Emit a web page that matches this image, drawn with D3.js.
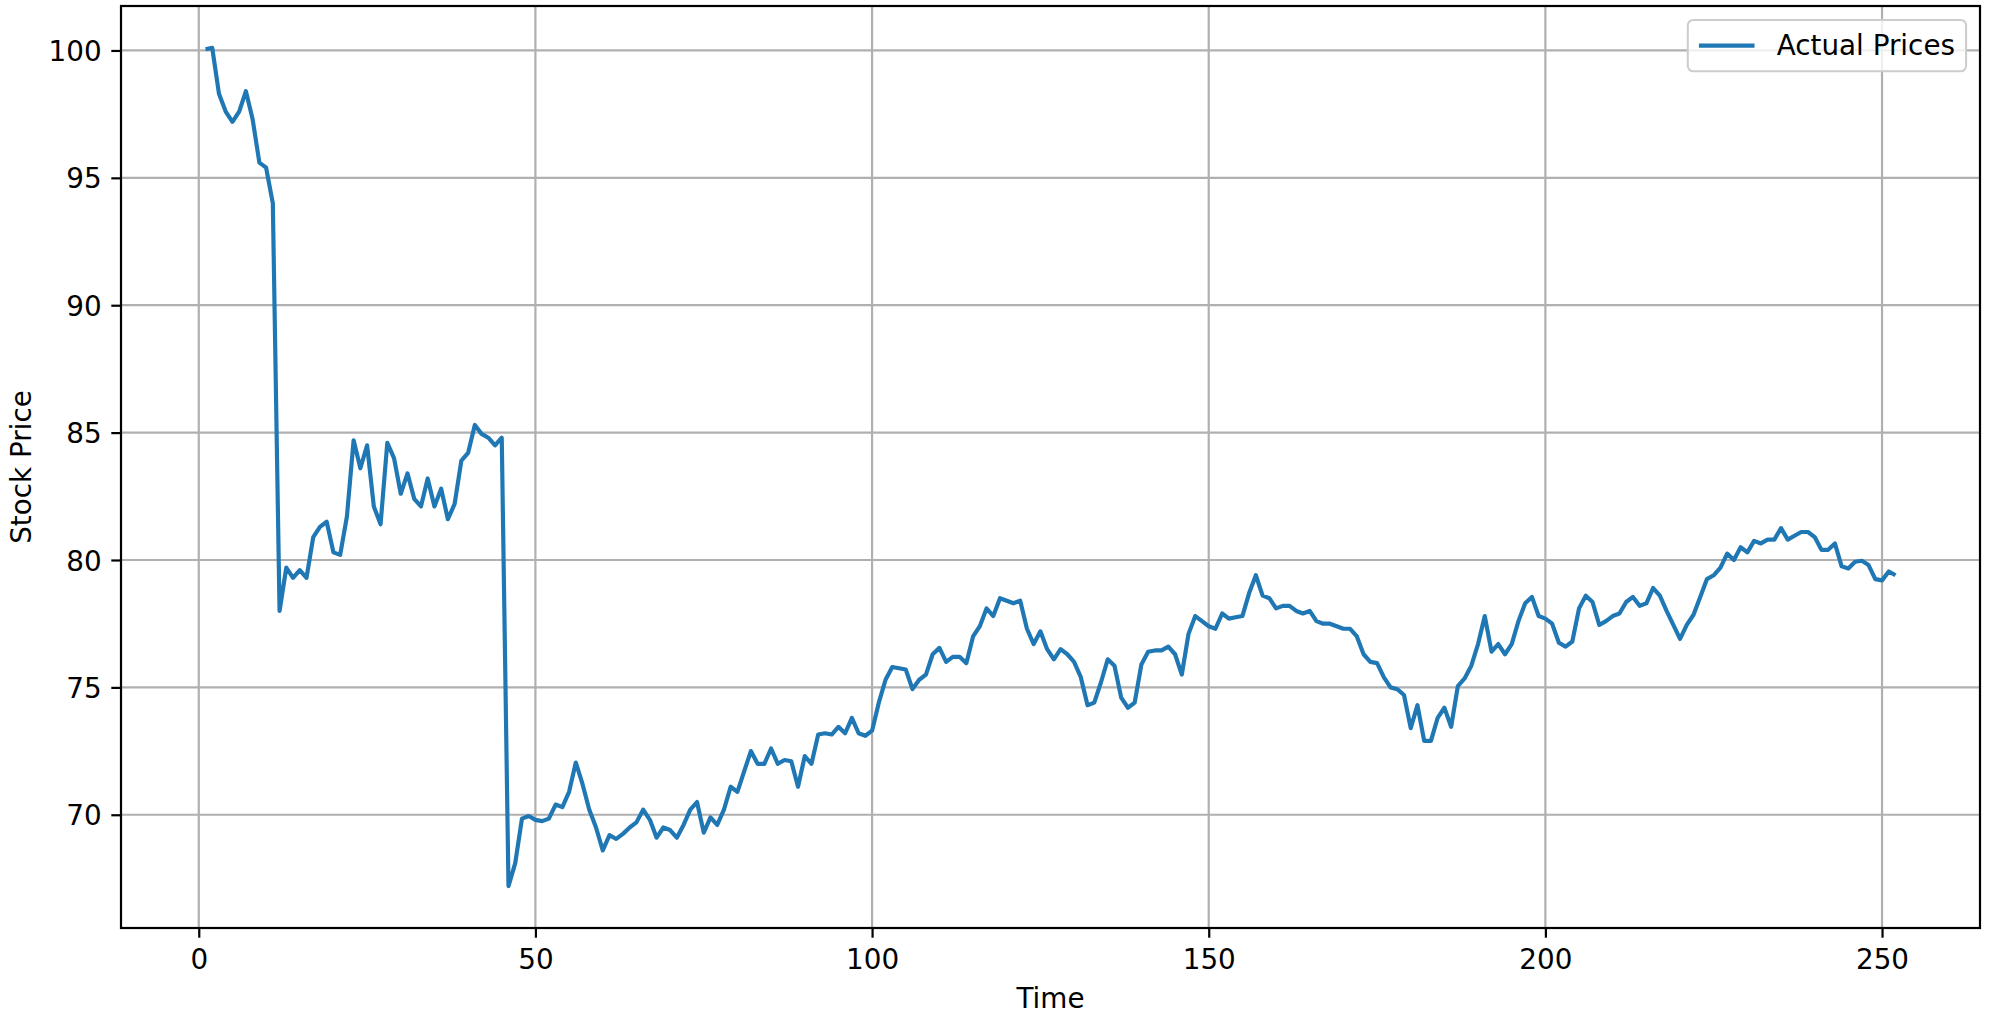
<!DOCTYPE html>
<html>
<head>
<meta charset="utf-8">
<script src="https://cdn.jsdelivr.net/npm/d3@7"></script>
<style>
  html, body { margin: 0; padding: 0; background: #fff; }
  svg { display: block; font-family: "DejaVu Sans", sans-serif; }
</style>
</head>
<body>
<svg id="chart" width="1994" height="1026"></svg>
<script>
// ---- data ----
const seriesName = "Actual Prices";
const xLabel = "Time";
const yLabel = "Stock Price";
const xTicks = [0, 50, 100, 150, 200, 250];
const yTicks = [70, 75, 80, 85, 90, 95, 100];
const prices = [
  100.05, 100.1, 98.3, 97.6, 97.2, 97.6, 98.4, 97.3, 95.6, 95.4,
  94.0, 78.0, 79.7, 79.3, 79.6, 79.3, 80.9, 81.3, 81.5, 80.3,
  80.2, 81.7, 84.7, 83.6, 84.5, 82.1, 81.4, 84.6, 84.0, 82.6,
  83.4, 82.4, 82.1, 83.2, 82.1, 82.8, 81.6, 82.2, 83.9, 84.2,
  85.3, 84.95, 84.8, 84.5, 84.8, 67.2, 68.1, 69.85, 69.95, 69.8,
  69.75, 69.85, 70.4, 70.3, 70.9, 72.05, 71.2, 70.2, 69.5, 68.6,
  69.2, 69.05, 69.25, 69.5, 69.7, 70.2, 69.8, 69.1, 69.5, 69.4,
  69.1, 69.6, 70.2, 70.5, 69.3, 69.9, 69.6, 70.2, 71.1, 70.9,
  71.7, 72.5, 72.0, 72.0, 72.6, 72.0, 72.15, 72.1, 71.1, 72.3,
  72.0, 73.15, 73.2, 73.15, 73.45, 73.2, 73.8, 73.2, 73.1, 73.3,
  74.4, 75.3, 75.8, 75.75, 75.7, 74.93, 75.3, 75.5, 76.3, 76.55,
  76.0, 76.2, 76.2, 75.95, 77.0, 77.4, 78.1, 77.8, 78.5, 78.4,
  78.3, 78.4, 77.3, 76.7, 77.2, 76.5, 76.1, 76.5, 76.3, 76.0,
  75.4, 74.3, 74.4, 75.2, 76.1, 75.85, 74.6, 74.2, 74.4, 75.9,
  76.4, 76.45, 76.45, 76.6, 76.3, 75.5, 77.1, 77.8, 77.6, 77.4,
  77.3, 77.9, 77.7, 77.75, 77.8, 78.7, 79.4, 78.6, 78.5, 78.1,
  78.2, 78.2, 78.0, 77.9, 78.0, 77.6, 77.5, 77.5, 77.4, 77.3,
  77.3, 77.0, 76.3, 76.0, 75.95, 75.4, 75.0, 74.93, 74.7, 73.4,
  74.3, 72.9, 72.9, 73.8, 74.2, 73.45, 75.05, 75.35, 75.85, 76.7,
  77.8, 76.4, 76.7, 76.3, 76.7, 77.6, 78.3, 78.55, 77.8, 77.7,
  77.5, 76.75, 76.6, 76.8, 78.1, 78.6, 78.35, 77.45, 77.6, 77.8,
  77.9, 78.35, 78.55, 78.2, 78.3, 78.9, 78.6, 78.0, 77.45, 76.9,
  77.45, 77.85, 78.55, 79.25, 79.4, 79.7, 80.25, 80.0, 80.5, 80.3,
  80.75, 80.65, 80.8, 80.8, 81.25, 80.8, 80.95, 81.1, 81.1, 80.9,
  80.4, 80.4, 80.65, 79.75, 79.67, 79.93, 79.97, 79.8, 79.25, 79.2,
  79.55, 79.4
];
const times = prices.map((_, i) => i + 1);

// ---- layout ----
const FS = 27.8;               // 10pt at 200 dpi
const plot = { left: 121, right: 1980, top: 6, bottom: 928 };
const tickLen = 9.7, tickPad = 9.7;
const color = "#1f77b4";

const svg = d3.select("#chart");

// matplotlib-style 5% margins
function padded(ext) {
  const r = ext[1] - ext[0];
  return [ext[0] - 0.05 * r, ext[1] + 0.05 * r];
}
const x = d3.scaleLinear().domain(padded(d3.extent(times))).range([plot.left, plot.right]);
const y = d3.scaleLinear().domain(padded(d3.extent(prices))).range([plot.bottom, plot.top]);

// grid
const grid = svg.append("g").attr("stroke", "#b0b0b0").attr("stroke-width", 2.2);
grid.selectAll("line.gx").data(xTicks).join("line")
  .attr("x1", d => x(d)).attr("x2", d => x(d))
  .attr("y1", plot.top).attr("y2", plot.bottom);
grid.selectAll("line.gy").data(yTicks).join("line")
  .attr("x1", plot.left).attr("x2", plot.right)
  .attr("y1", d => y(d)).attr("y2", d => y(d));

// clip for the line
svg.append("clipPath").attr("id", "clip").append("rect")
  .attr("x", plot.left).attr("y", plot.top)
  .attr("width", plot.right - plot.left).attr("height", plot.bottom - plot.top);

const line = d3.line().x((d, i) => x(times[i])).y(d => y(d));
svg.append("path")
  .datum(prices)
  .attr("clip-path", "url(#clip)")
  .attr("fill", "none")
  .attr("stroke", color)
  .attr("stroke-width", 4.17)
  .attr("stroke-linejoin", "round")
  .attr("stroke-linecap", "butt")
  .attr("d", line);

// axes
const xAxis = d3.axisBottom(x).tickValues(xTicks).tickFormat(d3.format("d"))
  .tickSize(tickLen).tickPadding(tickPad).tickSizeOuter(0);
const yAxis = d3.axisLeft(y).tickValues(yTicks).tickFormat(d3.format("d"))
  .tickSize(tickLen).tickPadding(tickPad).tickSizeOuter(0);

const gx = svg.append("g").attr("transform", `translate(0,${plot.bottom})`).call(xAxis);
const gy = svg.append("g").attr("transform", `translate(${plot.left},0)`).call(yAxis);
[gx, gy].forEach(g => {
  g.select(".domain").remove();
  g.selectAll(".tick line").attr("stroke", "#000").attr("stroke-width", 2.2);
  g.selectAll(".tick text").attr("fill", "#000")
    .style("font-family", "'DejaVu Sans', sans-serif").style("font-size", FS + "px");
});
gx.selectAll(".tick text").attr("dy", null).attr("y", tickLen + tickPad)
  .attr("dominant-baseline", "hanging").attr("dy", "0.02em");
gy.selectAll(".tick text").attr("dy", "0.36em");

// frame (spines)
svg.append("rect")
  .attr("x", plot.left).attr("y", plot.top)
  .attr("width", plot.right - plot.left).attr("height", plot.bottom - plot.top)
  .attr("fill", "none").attr("stroke", "#000").attr("stroke-width", 2.2);

// axis labels
svg.append("text")
  .attr("x", (plot.left + plot.right) / 2).attr("y", 1008)
  .attr("text-anchor", "middle").attr("fill", "#000")
  .style("font-size", FS + "px").text(xLabel);
svg.append("text")
  .attr("transform", `translate(31,${(plot.top + plot.bottom) / 2}) rotate(-90)`)
  .attr("text-anchor", "middle").attr("fill", "#000")
  .style("font-size", FS + "px").text(yLabel);

// legend
const pad = 0.4 * FS, handleLen = 2 * FS, handleGap = 0.8 * FS, axPad = 0.5 * FS;
const leg = svg.append("g");
const legText = leg.append("text").attr("fill", "#000").style("font-size", FS + "px")
  .attr("dominant-baseline", "central").text(seriesName);
const tw = legText.node().getComputedTextLength();
const boxW = pad * 2 + handleLen + handleGap + tw;
const boxH = pad * 2 + FS * 1.05;
const bx = plot.right - axPad - boxW, by = plot.top + axPad;
leg.insert("rect", "text")
  .attr("x", bx).attr("y", by).attr("width", boxW).attr("height", boxH)
  .attr("rx", 0.2 * FS).attr("ry", 0.2 * FS)
  .attr("fill", "rgba(255,255,255,0.8)").attr("stroke", "#cccccc").attr("stroke-width", 2);
leg.insert("line", "text")
  .attr("x1", bx + pad).attr("x2", bx + pad + handleLen)
  .attr("y1", by + boxH / 2).attr("y2", by + boxH / 2)
  .attr("stroke", color).attr("stroke-width", 4.17);
legText.attr("x", bx + pad + handleLen + handleGap).attr("y", by + boxH / 2);
</script>
</body>
</html>
